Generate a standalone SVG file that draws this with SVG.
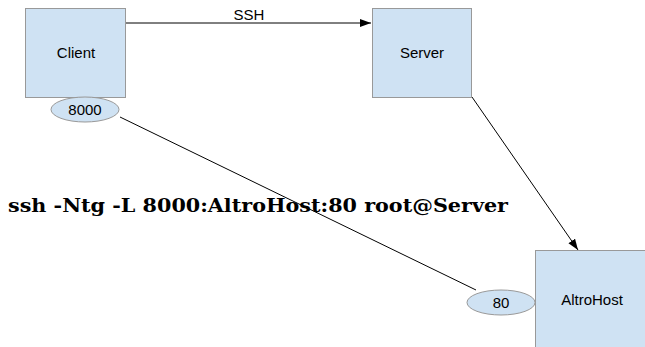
<svg xmlns="http://www.w3.org/2000/svg" width="645" height="347" viewBox="0 0 645 347">
<style>
.box{fill:#cfe2f3;stroke:#999999;stroke-width:1}
.lbl{font-family:"Liberation Sans",Arial,sans-serif;font-size:15px;fill:#000;text-anchor:middle}
.cmd{font-family:"DejaVu Serif",serif;font-weight:bold;font-size:18.5px;fill:#000}
.conn{stroke:#000;stroke-width:1;fill:none}
</style>
<defs>
<marker id="arr" markerWidth="12" markerHeight="10" refX="11" refY="4" orient="auto" markerUnits="userSpaceOnUse">
<path d="M0,0 L11,4 L0,8 Z" fill="#000"/>
</marker>
</defs>
<g id="connectors">
<line class="conn" x1="126" y1="23" x2="371" y2="23" marker-end="url(#arr)"/>
<line class="conn" x1="472" y1="97" x2="578" y2="250" marker-end="url(#arr)"/>
<line class="conn" x1="120" y1="117" x2="476" y2="290"/>
</g>
<g id="client">
<rect class="box" x="25.5" y="8.5" width="100" height="89"/>
<text class="lbl" x="76" y="58">Client</text>
</g>
<g id="port8000">
<ellipse class="box" cx="85" cy="109.5" rx="34" ry="12.5"/>
<text class="lbl" x="85" y="114.5">8000</text>
</g>
<g id="server">
<rect class="box" x="372.5" y="8.5" width="99" height="89"/>
<text class="lbl" x="422" y="58">Server</text>
</g>
<g id="ssh-label">
<text class="lbl" x="249" y="20">SSH</text>
</g>
<g id="altrohost">
<rect class="box" x="535.5" y="250.5" width="112" height="100"/>
<text class="lbl" x="592" y="305">AltroHost</text>
</g>
<g id="port80">
<ellipse class="box" cx="501" cy="302.5" rx="34" ry="12.5"/>
<text class="lbl" x="501" y="307.5">80</text>
</g>
<g id="command">
<text class="cmd" x="8" y="212" textLength="500" lengthAdjust="spacingAndGlyphs">ssh -Ntg -L 8000:AltroHost:80 root@Server</text>
</g>
</svg>
